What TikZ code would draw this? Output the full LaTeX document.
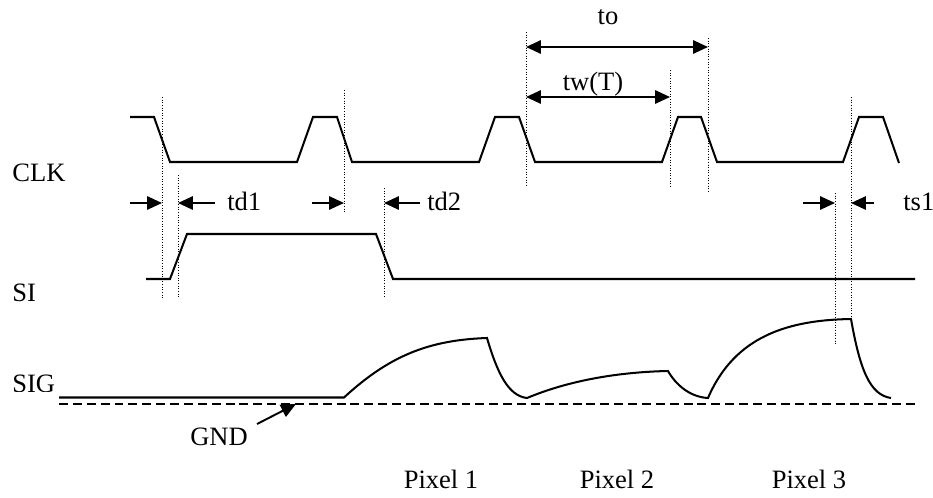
\documentclass[tikz,border=0pt]{standalone}
\usepackage{fontspec}
\setmainfont{Liberation Serif}
\usetikzlibrary{arrows.meta}
\begin{document}
\begin{tikzpicture}[x=0.02cm,y=-0.02cm,
  wave/.style={line width=1.15pt,line join=miter},
  guide/.style={densely dotted,line width=0.5pt},
  dim/.style={line width=1.1pt,-{Triangle[length=8.5pt,width=7.6pt]}},
  dimboth/.style={line width=1.1pt,{Triangle[length=8.5pt,width=7.6pt]}-{Triangle[length=8.5pt,width=7.6pt]}},
  lbl/.style={inner sep=0pt,font=\fontsize{15.1}{18}\selectfont}]
\useasboundingbox (0,0) rectangle (933,497);
% labels
\node[lbl,anchor=base west] (clk) at (12,181) {CLK};
\node[lbl,anchor=base west] (si) at (12,301) {SI};
\begin{scope}
\clip (0,360) rectangle (58,391.6);
\node[lbl,anchor=base west] (sig) at (12,392.8) {SIG};
\end{scope}
% CLK waveform
\draw[wave] (130,117)--(154,117)--(170,162)--(297,162)--(313,117)--(337,117)--(352,162)
  --(479,162)--(495,117)--(519,117)--(535,162)--(662,162)--(678,117)--(701,117)--(717,162)
  --(843,162)--(859,117)--(883,117)--(899,163);
% SI waveform
\draw[wave] (146,279)--(170,279)--(187,234)--(376,234)--(393,279)--(915,279);
% SIG waveform
\draw[wave] (59,397.5)--(344,397.5)
  .. controls (390,355) and (430,340) .. (487,338)
  .. controls (497,372) and (508,396) .. (527,398)
  .. controls (570,380) and (620,372) .. (668,371)
  .. controls (676,385) and (690,397) .. (708,398)
  .. controls (735,335) and (790,320) .. (851,319)
  .. controls (860,370) and (870,395) .. (891,398);
% GND dashed
\draw[line width=1pt,dash pattern=on 5.1pt off 2.8pt] (59,404)--(916,404);
% guide lines
\draw[guide] (162,97)--(162,298);
\draw[guide] (178,175)--(178,298);
\draw[guide] (344,90)--(344,213);
\draw[guide] (384,188)--(384,298);
\draw[guide] (526,32)--(526,187);
\draw[guide] (670,70)--(670,187);
\draw[guide] (708,38)--(708,193);
\draw[guide] (835,193)--(835,345);
\draw[guide] (851,97)--(851,318);
% dimension coordinates
\coordinate (a1s) at (130,203); \coordinate (a1e) at (162,203);
\coordinate (a2s) at (215,203); \coordinate (a2e) at (178,203);
\coordinate (a3s) at (312,203); \coordinate (a3e) at (344,203);
\coordinate (a4s) at (420,203); \coordinate (a4e) at (384,203);
\coordinate (a5s) at (803,203); \coordinate (a5e) at (835,203);
\coordinate (a6s) at (874,203); \coordinate (a6e) at (851,203);
\coordinate (toL) at (526,47); \coordinate (toR) at (708,47);
\coordinate (twL) at (526,97); \coordinate (twR) at (670,97);
\coordinate (gs) at (257,424); \coordinate (ge) at (296,404);
\draw[dim] (a1s)--(a1e);
\draw[dim] (a2s)--(a2e);
\draw[dim] (a3s)--(a3e);
\draw[dim] (a4s)--(a4e);
\draw[dim] (a5s)--(a5e);
\draw[dim] (a6s)--(a6e);
\draw[dimboth] (toL)--(toR);
\draw[dimboth] (twL)--(twR);
\draw[line width=1.1pt,-{Triangle[length=8.5pt,width=7.6pt]}] (gs)--(ge);
% dimension labels
\node[lbl,anchor=base west] (td1) at (227,210) {td1};
\node[lbl,anchor=base west] (td2) at (427,210) {td2};
\node[lbl,anchor=base west] (ts1) at (903,210) {ts1};
\node[lbl,anchor=base] (to) at (608,25) {to};
\node[lbl,anchor=base] (tw) at (593,90) {tw(T)};
\node[lbl,anchor=base] (gnd) at (219,445) {GND};
\node[lbl,anchor=base] (p1) at (441,488) {Pixel 1};
\node[lbl,anchor=base] (p2) at (617,488) {Pixel 2};
\node[lbl,anchor=base] (p3) at (809,488) {Pixel 3};
\end{tikzpicture}
\end{document}
